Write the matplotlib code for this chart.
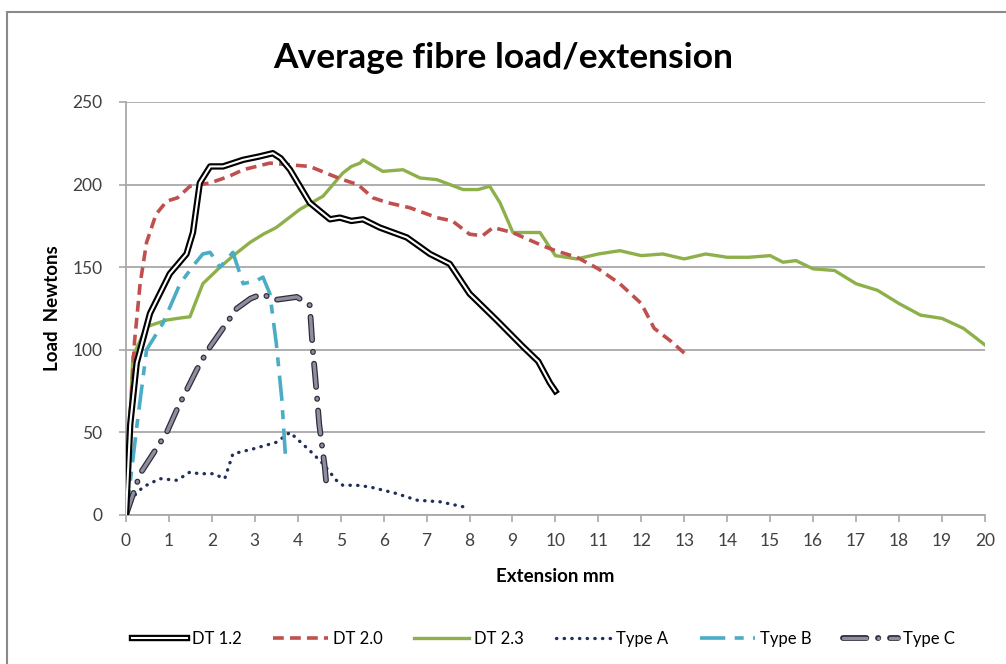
import matplotlib.pyplot as plt
import matplotlib.patheffects as pe
from matplotlib.patches import Rectangle

# Extension (mm) and load (N)
dt12_x = [0, 0.1, 0.25, 0.56, 1.02, 1.41, 1.56, 1.72, 1.96, 2.26, 2.73, 3.1, 3.42, 3.6,
          3.82, 4.28, 4.75, 4.98, 5.25, 5.52, 5.91, 6.54, 7.08, 7.54, 8.0, 8.63, 9.24, 9.6, 9.87, 10]
dt12_y = [0, 55, 92, 122, 146, 158, 171, 201, 211, 211, 215, 217, 219, 216,
          209, 189, 179, 180, 178, 179, 174, 168, 158, 152, 134, 118, 102, 93, 80, 75]

dt20_x = [0, 0.1, 0.2, 0.33, 0.48, 0.7, 0.95, 1.2, 1.49, 1.96, 2.4, 2.73, 3.35, 3.8, 4.28,
          4.75, 5.05, 5.4, 5.75, 6.1, 6.61, 7.24, 7.6, 8.0, 8.3, 8.55, 9.0, 9.7, 10.0,
          10.5, 11.0, 11.5, 12.0, 12.3, 12.7, 13.0]
dt20_y = [0, 60, 105, 140, 165, 182, 190, 192, 199, 201, 205, 209, 213, 212, 211,
          206, 203, 200, 192, 189, 186, 180, 178, 170, 169, 174, 171, 163, 160,
          156, 149, 140, 128, 113, 105, 98]

dt23_x = [0, 0.08, 0.16, 0.48, 0.95, 1.2, 1.49, 1.79, 2.19, 2.5, 2.89, 3.2, 3.5, 4.05, 4.59,
          5.05, 5.25, 5.45, 5.52, 5.98, 6.45, 6.85, 7.24, 7.85, 8.2, 8.47, 8.71, 9.01, 9.3,
          9.64, 9.87, 10.0, 10.5, 11.0, 11.5, 12.0, 12.5, 13.0, 13.5, 14.0, 14.5, 15.0,
          15.3, 15.6, 16.0, 16.5, 17.0, 17.5, 18.0, 18.5, 19.0, 19.5, 20.0]
dt23_y = [0, 50, 96, 114, 118, 119, 120, 140, 150, 157, 165, 170, 174, 185, 193,
          207, 211, 213, 215, 208, 209, 204, 203, 197, 197, 199, 189, 171, 171,
          171, 162, 157, 155, 158, 160, 157, 158, 155, 158, 156, 156, 157,
          153, 154, 149, 148, 140, 136, 128, 121, 119, 113, 103]

typea_x = [0, 0.09, 0.4, 0.79, 1.19, 1.49, 1.7, 2.03, 2.3, 2.49, 2.96, 3.5, 3.82, 4.28,
           4.59, 4.9, 5.05, 5.37, 5.68, 6.3, 6.77, 7.31, 7.85, 8.0]
typea_y = [0, 9, 17, 22, 21, 26, 25, 25, 22, 37, 40, 44, 50, 39,
           31, 21, 18, 18, 17, 13, 9, 8, 5, 5]

typeb_x = [0, 0.1, 0.25, 0.48, 0.86, 1.26, 1.6, 1.79, 1.96, 2.19, 2.49, 2.73, 3.05, 3.19,
           3.35, 3.5, 3.63, 3.72]
typeb_y = [0, 20, 53, 100, 116, 140, 152, 158, 159, 150, 159, 140, 142, 144,
           134, 104, 70, 33]

typec_x = [0, 0.33, 0.63, 0.95, 1.19, 1.65, 1.91, 2.26, 2.58, 2.9, 3.19, 3.42, 3.7,
           3.98, 4.28, 4.35, 4.4, 4.45, 4.5, 4.63, 4.68]
typec_y = [0, 25, 37, 50, 64, 88, 100, 113, 125, 131, 134, 130, 131,
           132, 127, 100, 86, 71, 55, 29, 15]

x_ticks = list(range(0, 21))
y_ticks = [0, 50, 100, 150, 200, 250]

plt.rcParams['font.family'] = ['Lato', 'DejaVu Sans']

fig = plt.figure(figsize=(10.06, 6.64), dpi=100)
ax = fig.add_axes([0.1252, 0.2244, 0.8538, 0.622])

# Outer chart frame
fig.patches.append(Rectangle((7 / 1006, -0.05), 1.1, 1 - 12 / 664 + 0.05,
                             transform=fig.transFigure, fill=False,
                             ec='#8a8a8a', lw=1.5))

# DT 1.2: black double line
ax.plot(dt12_x, dt12_y, c='white', lw=1.5, label='DT 1.2', zorder=5,
        solid_joinstyle='round',
        path_effects=[pe.Stroke(linewidth=4.6, foreground='black'), pe.Normal()])
ax.plot(dt20_x, dt20_y, c='#c0504d', lw=2.6, ls=(0, (3, 1.7)), label='DT 2.0', zorder=4)
ax.plot(dt23_x, dt23_y, c='#8db04a', lw=2.4, label='DT 2.3', zorder=3)
ax.plot(typea_x, typea_y, c='#1f2f5a', lw=2.4, ls=(0, (0.1, 2.2)),
        dash_capstyle='round', label='Type A', zorder=4)
ax.plot(typeb_x, typeb_y, c='#4bacc6', lw=2.6, ls=(0, (7, 2.6, 2.5, 2.6)),
        label='Type B', zorder=4)
ax.plot(typec_x, typec_y, c='#8e8ea0', lw=2.4, ls=(0, (7, 3.5, 0.1, 3.5)),
        dash_capstyle='round', solid_joinstyle='round', label='Type C', zorder=4,
        path_effects=[pe.Stroke(linewidth=4.2, foreground='#2e2e3a'), pe.Normal()])

ax.set_xlim(0, 20)
ax.set_ylim(0, 250)
ax.set_xticks(x_ticks)
ax.set_yticks(y_ticks)
ax.grid(axis='y', color='#a8a8a8', lw=1.3)
ax.set_axisbelow(True)
for s in ['top', 'right']:
    ax.spines[s].set_visible(False)
ax.spines['left'].set_color('#a8a8a8')
ax.spines['bottom'].set_color('#a8a8a8')
ax.spines['left'].set_linewidth(1.3)
ax.spines['bottom'].set_linewidth(1.3)
ax.tick_params(colors='#a8a8a8', labelcolor='#404040', labelsize=12.5, length=5, width=1.2)
ax.tick_params(axis='y', pad=12)
ax.tick_params(axis='x', pad=8)

ax.set_xlabel('Extension mm', fontsize=13.5, fontweight='bold', labelpad=14)
ax.set_ylabel('Load  Newtons', fontsize=13.5, fontweight='bold', labelpad=8)
fig.suptitle('Average fibre load/extension', fontsize=25.5, fontweight='bold', y=0.937)

fig.legend(loc='center', bbox_to_anchor=(0.54, 0.038), ncol=6, frameon=False,
           fontsize=12, handlelength=3.3, columnspacing=1.9, handletextpad=0.3)

fig.savefig('out.png', dpi=100)
